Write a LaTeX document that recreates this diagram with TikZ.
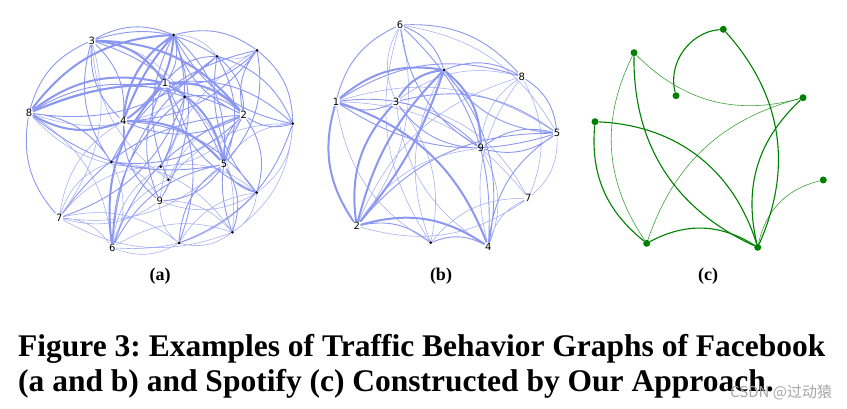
\documentclass[tikz,border=0pt]{standalone}
\usepackage{fontspec}
\setmainfont{Liberation Serif}
\newfontfamily\numfont{DejaVu Sans}
\newfontfamily\cjkfont{Noto Sans CJK SC}
\usetikzlibrary{backgrounds}
\frenchspacing

\newlength{\du}
\setlength{\du}{1pt}

\definecolor{fbblue}{rgb}{0.549, 0.596, 0.941}
\definecolor{spgreen}{rgb}{0.000, 0.502, 0.000}

\tikzset{
  fbedge/.style={draw=fbblue, line width=0.9\du, bend left=25},
  fbthick/.style={fbedge, line width=2.0\du},
  fbthin/.style={fbedge, line width=0.55\du, draw opacity=0.8},
  fbdot/.style={circle, fill=black, inner sep=0pt, minimum size=3\du},
  fbnum/.style={inner sep=0.5\du, font=\numfont\fontsize{10}{10}\selectfont},
  spedge/.style={draw=spgreen, line width=1.1\du},
  spthin/.style={draw=spgreen, line width=0.6\du, draw opacity=0.75},
  spdot/.style={circle, fill=spgreen, inner sep=0pt, minimum size=7\du},
  sublabel/.style={font=\bfseries\fontsize{18}{18}\selectfont},
  captext/.style={anchor=base west, inner sep=0pt, font=\bfseries\fontsize{31.5}{35}\selectfont}
}

\begin{document}
\begin{tikzpicture}[x=\du, y=-\du]
\useasboundingbox (0,0) rectangle (847,409);

% graph (a), Facebook
\node[fbnum] (a1) at (165,83.3) {1};
\node[fbnum] (a2) at (243.7,115) {2};
\node[fbnum] (a3) at (91.7,40.7) {3};
\node[fbnum] (a4) at (123.3,121.3) {4};
\node[fbnum] (a5) at (224,164.3) {5};
\node[fbnum] (a6) at (112.3,247.7) {6};
\node[fbnum] (a7) at (59.3,217.7) {7};
\node[fbnum] (a8) at (29,113) {8};
\node[fbnum] (a9) at (159.7,201) {9};
\node[fbdot] (aa) at (173.7,35) {};
\node[fbdot] (ab) at (217,56.3) {};
\node[fbdot] (ac) at (257,50.3) {};
\node[fbdot] (ad) at (184.7,97) {};
\node[fbdot] (ae) at (292.7,123.7) {};
\node[fbdot] (af) at (111.3,162) {};
\node[fbdot] (ag) at (160.7,166.7) {};
\node[fbdot] (ah) at (168.3,179.7) {};
\node[fbdot] (ai) at (256.7,192.7) {};
\node[fbdot] (aj) at (232.3,232.3) {};
\node[fbdot] (ak) at (179,243) {};

\begin{scope}[on background layer]
\draw[fbthick] (a8) to (a1) (a4) to (a8) (a4) to (aa) (aa) to (a4) (a3) to (a1)
  (a1) to (a2) (a3) to (a2) (a6) to (a1) (a4) to (a5) (a8) to (aa) (a1) to (a5)
  (a4) to[bend left=10] (aa) (a8) to[bend left=10] (a1);
\draw[fbedge] (a8) to (a3) (ab) to (a8) (a8) to (a2) (a5) to (a8) (a8) to (af)
  (a7) to (a8) (a3) to (aa) (a4) to (a3) (a3) to (a5) (af) to (a3) (a3) to (ab)
  (aa) to (a1) (a1) to (ab) (ac) to (a1) (a1) to (ae) (a9) to (a1) (a1) to (ag)
  (ai) to (a1) (a2) to (a4) (a4) to (af) (a9) to (a4) (a4) to (ai) (ac) to (a4)
  (aa) to (ac) (a2) to (aa) (aa) to (a5) (ae) to (aa) (aa) to (ag) (ah) to (aa)
  (ab) to (a2) (ai) to (ab) (ab) to (ae) (ac) to (ae) (a2) to (ac) (ac) to (a5)
  (af) to (ac) (ad) to (a2) (a6) to (ad) (ad) to (a7) (ae) to (a2) (a5) to (a2)
  (a2) to (ai) (aj) to (a2) (a2) to (af) (a6) to (a2) (ai) to (a5) (a5) to (a9)
  (ak) to (a5) (a5) to (aj) (a6) to (a5) (a8) to (ad) (a3) to (a4) (aa) to (a9)
  (a1) to (ak) (ab) to (a5) (a6) to (ab) (a7) to (a2) (ae) to (ak);
\draw[fbthin] (a7) to (a6) (ak) to (a6) (a6) to (aj) (af) to (a6) (a6) to (ah)
  (ai) to (a6) (a7) to (af) (a9) to (a7) (a7) to (ag) (a5) to (a7) (ak) to (a9)
  (a9) to (aj) (ai) to (a9) (aj) to (ak) (ak) to (ai) (ai) to (aj) (ae) to (ai)
  (a5) to (ae) (a2) to (ag) (ah) to (a2) (a6) to (ag) (ad) to (a8) (a3) to (ad)
  (ac) to (ab) (aa) to (ab) (a7) to (a4) (a7) to (ak) (ae) to (aj) (a8) to (a6)
  (a3) to (a7) (af) to (a9) (ag) to (ai) (a9) to (ac) (ah) to (ae) (aj) to (a7)
  (af) to (aj) (ad) to (aj) (ag) to (a8) (ah) to (a3);
\end{scope}

% graph (b), Facebook
\node[fbnum] (b1) at (336,101.7) {1};
\node[fbnum] (b2) at (356.7,226) {2};
\node[fbnum] (b3) at (396,101.7) {3};
\node[fbnum] (b4) at (488.3,246.7) {4};
\node[fbnum] (b5) at (557,133.3) {5};
\node[fbnum] (b6) at (400,25) {6};
\node[fbnum] (b7) at (528.3,198.3) {7};
\node[fbnum] (b8) at (521.7,76.7) {8};
\node[fbnum] (b9) at (480.7,148.3) {9};
\node[fbdot] (bd) at (444,70) {};
\node[fbdot] (be) at (430.7,242.7) {};

\begin{scope}[on background layer]
\draw[fbthick] (b2) to[bend left=15] (bd) (bd) to[bend left=10] (b2) (b2) to (b3)
  (b2) to (b1) (b1) to (b4) (b2) to (b4) (b1) to (bd) (bd) to (b9) (b3) to (bd);
\draw[fbedge] (b1) to (b6) (b6) to (b8) (b6) to (bd) (b9) to (b6) (b6) to (b4)
  (b3) to (b1) (b1) to (b8) (b5) to (b1) (b1) to (b9) (b3) to (b5) (b9) to (b3)
  (bd) to (b8) (b5) to (bd) (bd) to (b4) (b8) to (b5) (b9) to (b5) (b5) to (b9)
  (b2) to (b5) (b4) to (b5) (b2) to (be) (be) to (b4);
\draw[fbthin] (b3) to (b6) (be) to (b6) (b6) to (b5) (b1) to (b7) (be) to (b1)
  (b3) to (b8) (b3) to (b7) (b4) to (b3) (b3) to (be) (be) to (bd) (b9) to (b8)
  (b8) to (b7) (b4) to (b8) (b2) to (b8) (b5) to (b7) (b2) to (b9) (b9) to (b4)
  (b4) to (b7) (b7) to (b2) (be) to (b7) (b6) to (b2) (b1) to (b5);
\end{scope}

% graph (c), Spotify
\node[spdot] (cA) at (723.3,29.3) {};
\node[spdot] (cB) at (634,52.7) {};
\node[spdot] (cC) at (676,95.7) {};
\node[spdot] (cD) at (803,97.7) {};
\node[spdot] (cE) at (595,121.7) {};
\node[spdot] (cF) at (823.3,180) {};
\node[spdot] (cG) at (646.7,243.3) {};
\node[spdot] (cH) at (757.7,247.3) {};

\begin{scope}[on background layer]
\draw[spedge] (cC) to[bend left=50] (cA);
\draw[spedge] (cA) to[bend left=33] (cH);
\draw[spedge] (cB) to[bend right=33] (cH);
\draw[spedge] (cE) to[bend right=28] (cG);
\draw[spedge] (cE) to[bend left=35] (cH);
\draw[spedge] (cG) to[bend left=30] (cH);
\draw[spedge] (cD) to[bend right=30] (cH);
\draw[spthin] (cB) to[bend right=30] (cD);
\draw[spthin] (cB) to[bend right=30] (cG);
\draw[spthin] (cG) to[bend left=28] (cD);
\draw[spthin] (cF) to[bend right=32] (cH);
\end{scope}

% labels and caption
\node[sublabel] (laba) at (160,276) {(a)};
\node[sublabel] (labb) at (441,276) {(b)};
\node[sublabel] (labc) at (708,276) {(c)};
\node[captext] (cap1) at (18,356) {Figure 3: Examples of Traffic Behavior Graphs of Facebook};
\node[captext] (cap2) at (18,391) {(a and b) and Spotify (c) Constructed by Our Approach.};
\node[anchor=west, inner sep=0pt, text=black!35, font=\cjkfont\fontsize{15}{15}\selectfont] (mark) at (730,392) {CSDN @过动猿};
\end{tikzpicture}
\end{document}
